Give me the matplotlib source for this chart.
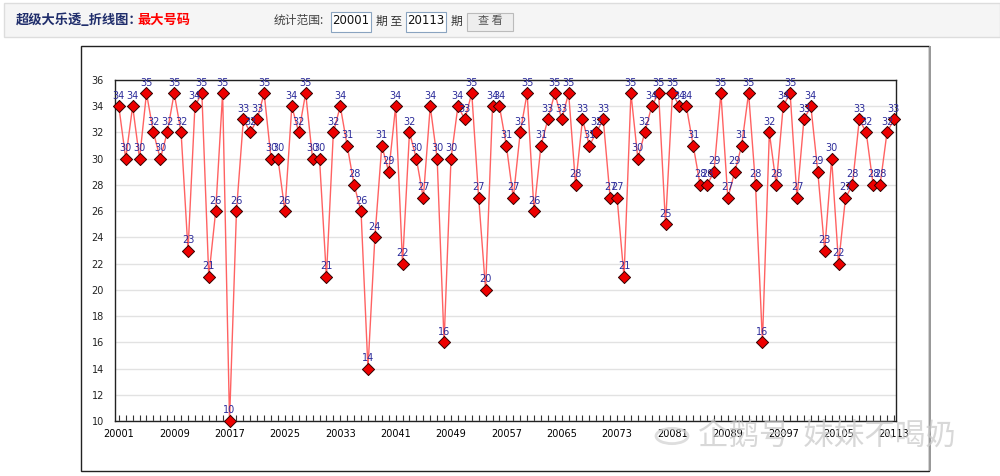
import numpy as np
import matplotlib.pyplot as plt
from matplotlib.patches import Rectangle, Circle

plt.rcParams['font.family'] = ['Noto Sans CJK SC', 'DejaVu Sans']

# data: largest number per draw, 20001 - 20113
first_issue = 20001
values = [34, 30, 34, 30, 35, 32, 30, 32, 35, 32, 23, 34, 35, 21, 26, 35, 10,
          26, 33, 32, 33, 35, 30, 30, 26, 34, 32, 35, 30, 30, 21, 32, 34, 31,
          28, 26, 14, 24, 31, 29, 34, 22, 32, 30, 27, 34, 30, 16, 30, 34, 33,
          35, 27, 20, 34, 34, 31, 27, 32, 35, 26, 31, 33, 35, 33, 35, 28, 33,
          31, 32, 33, 27, 27, 21, 35, 30, 32, 34, 35, 25, 35, 34, 34, 31, 28,
          28, 29, 35, 27, 29, 31, 35, 28, 16, 32, 28, 34, 35, 27, 33, 34, 29,
          23, 30, 22, 27, 28, 33, 32, 28, 28, 32, 33]
issues = [str(first_issue + i) for i in range(len(values))]
yticks = list(range(10, 37, 2))

W, H = 1000, 476
fig = plt.figure(figsize=(W / 100, H / 100), dpi=100)
fig.patch.set_facecolor('white')

def px(x, y):
    "pixel coords (top-left origin) -> figure fraction"
    return x / W, 1 - y / H

def box(x, y, w, h, **kw):
    "rectangle in pixel coords, drawn behind the axes"
    x0, y0 = px(x, y + h)
    fig.patches.append(Rectangle((x0, y0), w / W, h / H, transform=fig.transFigure,
                                 zorder=-1, **kw))

# header bar
box(4, 3, 996, 34, facecolor='#f5f5f5', edgecolor='#dddddd', lw=1)
fig.text(*px(16, 20), '超级大乐透_折线图：', fontsize=9.5, fontweight='bold',
         color='#1f2d6b', va='center', ha='left')
fig.text(*px(137, 20), '最大号码', fontsize=9.5, fontweight='bold',
         color='#ff0000', va='center', ha='left')
fig.text(*px(274, 20), '统计范围:', fontsize=8.5, color='#444444', va='center')
for bx, label in [(331, '20001'), (406, '20113')]:
    box(bx, 12, 40, 20, facecolor='white', edgecolor='#8aa4c0', lw=0.8)
    fig.text(*px(bx + 20, 21), label, fontsize=8.5, color='#111111',
             ha='center', va='center', family='DejaVu Sans')
fig.text(*px(376, 21), '期 至', fontsize=8.5, color='#333333', va='center')
fig.text(*px(451, 21), '期', fontsize=8.5, color='#333333', va='center')
box(467, 13, 46, 18, facecolor='#eeeeee', edgecolor='#bbbbbb', lw=0.8)
fig.text(*px(490, 21), '查 看', fontsize=8, color='#555555', ha='center', va='center')

# chart box
box(81, 46, 848, 425, facecolor='white', edgecolor='#222222', lw=1)
box(929, 46, 1.5, 425, facecolor='#999999', edgecolor='none')

# plot area
ax = fig.add_axes([115 / W, (H - 421) / H, (896 - 115) / W, (421 - 80) / H])
ax.patch.set_alpha(0)
xs = np.arange(len(values))
ax.plot(xs, values, color='#ff6262', lw=1, zorder=3)
ax.scatter(xs, values, marker='D', s=38, facecolor='#ee0000', edgecolor='#330000',
           linewidth=0.7, zorder=4, clip_on=False)
for x, v in zip(xs, values):
    ax.annotate(str(v), (x, v), xytext=(0, 4), textcoords='offset points',
                ha='center', va='bottom', fontsize=7, color='#2b2b9a',
                family='DejaVu Sans', zorder=5, annotation_clip=False)

ax.set_ylim(10, 36)
ax.set_xlim(-0.55, len(values) - 0.7)
ax.set_yticks(yticks)
ax.set_yticklabels([str(t) for t in yticks], family='DejaVu Sans')
ax.yaxis.grid(True, color='#e2e2e2', lw=1)
ax.set_axisbelow(True)
ax.tick_params(axis='y', length=0, labelsize=7, colors='#222222', pad=8)

ax.set_xticks(xs[::8])
ax.set_xticklabels(issues[::8], family='DejaVu Sans')
ax.set_xticks(xs, minor=True)
ax.tick_params(axis='x', which='both', direction='in', length=4, width=0.8,
               color='#333333', labelsize=7, pad=6)
for s in ax.spines.values():
    s.set_color('#222222')
    s.set_linewidth(1)

# watermark
fig.patches.append(Circle(px(672, 436), 16 / W, transform=fig.transFigure,
                          facecolor='none', edgecolor='#d0d0d0', lw=2, alpha=0.7, zorder=10))
fig.text(*px(698, 436), '企鹅号  妹妹不喝奶', fontsize=22, color='#c8c8c8',
         alpha=0.7, va='center', ha='left', zorder=10)

fig.savefig('out.png', dpi=100)
